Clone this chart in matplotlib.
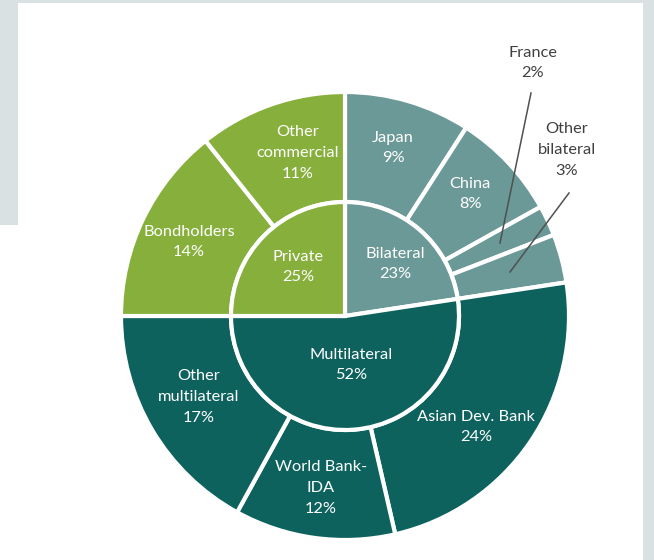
import matplotlib
matplotlib.use("Agg")
import matplotlib.pyplot as plt
from matplotlib.patches import Rectangle

# ---- data ----
inner_labels = ["Bilateral", "Multilateral", "Private"]
inner_pct_text = ["23%", "52%", "25%"]
inner_values = [22.6, 52.4, 25.0]

outer_labels = ["Japan", "China", "France", "Other\nbilateral", "Asian Dev. Bank",
                "World Bank-\nIDA", "Other\nmultilateral", "Bondholders", "Other\ncommercial"]
outer_pct_text = ["9%", "8%", "2%", "3%", "24%", "12%", "17%", "14%", "11%"]
outer_values = [9.1, 7.8, 2.2, 3.5, 23.8, 11.6, 17.0, 14.3, 10.7]
outer_group = [0, 0, 0, 0, 1, 1, 1, 2, 2]

group_colors = ["#6b9997", "#0e625e", "#87af3b"]
bg_gray = "#d9e1e3"

W, H = 654, 560
fig = plt.figure(figsize=(W / 100, H / 100), dpi=100, facecolor="white")

# background screenshot frame
for (x0, y0, w, h) in [(0, 0, W, 3), (0, 0, 18, 225), (643, 0, W - 643, H)]:
    fig.patches.append(Rectangle((x0 / W, 1 - (y0 + h) / H), w / W, h / H,
                                 transform=fig.transFigure, facecolor=bg_gray,
                                 edgecolor="none", zorder=0))

cx, cy = 345, 316
half = 250
ax = fig.add_axes([(cx - half) / W, (H - cy - half) / H, 2 * half / W, 2 * half / H])
ax.set_xlim(-half, half)
ax.set_ylim(-half, half)
ax.axis("off")

R_out, R_in = 224, 114
wedge_kw = dict(edgecolor="white", linewidth=3)
ax.pie(outer_values, radius=R_out, startangle=90, counterclock=False,
       colors=[group_colors[g] for g in outer_group],
       wedgeprops=dict(width=R_out - R_in, **wedge_kw))
ax.pie(inner_values, radius=R_in, startangle=90, counterclock=False,
       colors=group_colors, wedgeprops=dict(**wedge_kw))
ax.set_xlim(-half, half)
ax.set_ylim(-half, half)
ax.set_aspect("auto")

font = dict(family=["Lato", "DejaVu Sans"], fontsize=11.8, ha="center", va="center",
            linespacing=1.6)

# inner labels
inner_pos = [(50, 52), (6, -49), (-47, 49)]
for lab, pct, (x, y) in zip(inner_labels, inner_pct_text, inner_pos):
    ax.text(x, y, f"{lab}\n{pct}", color="white", **font)

# outer labels
outer_pos = [(48, 168), (125, 122), (188, 253), (222, 166), (131, -111),
             (-24, -172), (-146, -81), (-156, 74), (-47, 163)]
outside = {2, 3}
for i, (lab, pct, (x, y)) in enumerate(zip(outer_labels, outer_pct_text, outer_pos)):
    color = "#404040" if i in outside else "white"
    ax.text(x, y, f"{lab}\n{pct}", color=color, **font)

# leader lines for small slices
ax.plot([186, 155], [223, 73], color="#505050", lw=1.1)
ax.plot([224, 165], [123, 44], color="#505050", lw=1.1)

fig.savefig("out.png", dpi=100, facecolor="white")
